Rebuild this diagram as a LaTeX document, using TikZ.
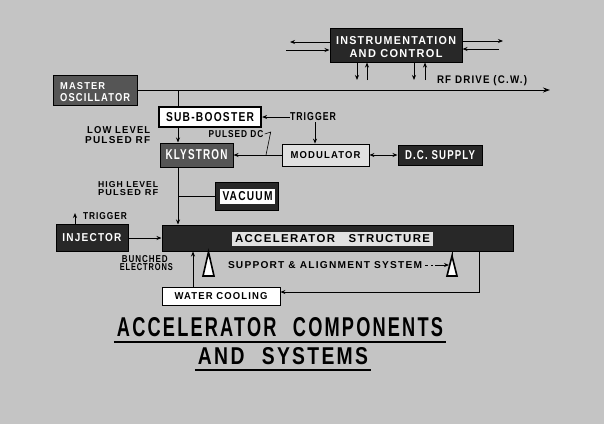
\documentclass[tikz,border=0pt]{standalone}
\usepackage{fontspec}
\setmainfont{Liberation Sans}
\newfontfamily\lblfont[LetterSpace=12]{Liberation Sans}
\usetikzlibrary{arrows.meta}
\definecolor{bgc}{RGB}{196,196,196}
\definecolor{darkc}{RGB}{40,40,40}
\definecolor{midc}{RGB}{85,85,85}
\definecolor{lightc}{RGB}{225,225,225}
\newcommand\fit[3]{\resizebox{#1pt}{#2pt}{\lblfont\bfseries #3}}
\tikzset{
  darkbox/.style={draw=black, fill=darkc, line width=1pt, inner sep=0pt, text=white},
  midbox/.style={draw=black, fill=midc, line width=1pt, inner sep=0pt, text=white},
  lightbox/.style={draw=black, fill=lightc, line width=0.8pt, inner sep=0pt, text=black},
  whitebox/.style={draw=black, fill=white, line width=0.8pt, inner sep=0pt, text=black},
  lbl/.style={inner sep=0pt, text=black},
  wlbl/.style={inner sep=0pt, text=white},
  conn/.style={line width=0.9pt, black},
  arr/.style={conn, -{Stealth[length=5pt,width=4pt]}},
  barr/.style={conn, {Stealth[length=5pt,width=4pt]}-{Stealth[length=5pt,width=4pt]}},
  ul/.style={line width=1.8pt, black},
  support/.style={draw=black, fill=white, line width=1.6pt, line join=miter}
}
\begin{document}
\begin{tikzpicture}[x=1pt,y=-1pt]
\fill[bgc] (0,0) rectangle (604,424);
\useasboundingbox (0,0) rectangle (604,424);

% ---------- boxes ----------
\node[darkbox, minimum width=132pt, minimum height=34pt] (inst) at (396,45) {};
\node[wlbl] (instA) at (396,40.5) {\fit{120}{8}{INSTRUMENTATION}};
\node[wlbl] (instB) at (396,54) {\fit{93}{8}{AND CONTROL}};

\node[midbox, minimum width=84pt, minimum height=30pt] (mo) at (95,90) {};
\node[wlbl, anchor=west] (moA) at (60,86) {\fit{45}{7}{MASTER}};
\node[wlbl, anchor=west] (moB) at (60,98) {\fit{70}{8}{OSCILLATOR}};

\node[whitebox, line width=2.2pt, minimum width=102pt, minimum height=20pt] (sb) at (210,117) {\fit{88}{9}{SUB-BOOSTER}};

\node[midbox, minimum width=73pt, minimum height=24pt] (kly) at (196.5,155) {\fit{62}{10}{KLYSTRON}};

\node[lightbox, minimum width=87pt, minimum height=22pt] (mod) at (325.5,155) {\fit{70}{7}{MODULATOR}};

\node[darkbox, minimum width=84pt, minimum height=20pt] (dcs) at (440,155) {\fit{70}{9}{D.C. SUPPLY}};

\node[darkbox, minimum width=63pt, minimum height=28pt] (vac) at (246.5,196) {};
\node[whitebox, draw=none, minimum width=55pt, minimum height=15pt] (vacin) at (247.5,196.5) {\fit{50}{9}{VACUUM}};

\node[darkbox, minimum width=72pt, minimum height=27pt] (inj) at (92,238) {\fit{59}{8}{INJECTOR}};

\node[darkbox, minimum width=351pt, minimum height=26pt] (acc) at (337.5,238) {};
\node[lightbox, draw=none, minimum width=201pt, minimum height=14pt] (accin) at (332.5,239) {\fit{195}{8}{ACCELERATOR\hspace{1.2em}STRUCTURE}};

\node[whitebox, minimum width=118pt, minimum height=18pt] (wc) at (221,296) {\fit{93}{7}{WATER COOLING}};

% ---------- labels ----------
\node[lbl] (rfd) at (482,81) {\fit{90}{8}{RF DRIVE (C.W.)}};
\node[lbl] (trigA) at (313,117) {\fit{46}{8}{TRIGGER}};
\node[lbl, anchor=west] (llA) at (87,130) {\fit{63}{7}{LOW LEVEL}};
\node[lbl, anchor=west] (llB) at (85,140) {\fit{65}{7}{PULSED RF}};
\node[lbl] (pdc) at (236,134) {\fit{55}{7}{PULSED DC}};
\node[lbl, anchor=west] (hlA) at (98,185) {\fit{60}{6}{HIGH LEVEL}};
\node[lbl, anchor=west] (hlB) at (98,192.5) {\fit{60}{6}{PULSED RF}};
\node[lbl] (trigB) at (105,216.5) {\fit{44}{7}{TRIGGER}};
\node[lbl, anchor=east] (buA) at (168,259) {\fit{46}{7}{BUNCHED}};
\node[lbl, anchor=east] (buB) at (173,267.5) {\fit{53}{7}{ELECTRONS}};
\node[lbl] (sup) at (325,265) {\fit{194}{7}{SUPPORT \& ALIGNMENT SYSTEM}};

\node[lbl] (t1) at (280,327.5) {\resizebox{326pt}{19pt}{\lblfont\bfseries ACCELERATOR\hspace{0.9em}COMPONENTS}};
\node[lbl] (t2) at (283,356.5) {\resizebox{170pt}{17pt}{\lblfont\bfseries AND\hspace{0.9em}SYSTEMS}};
\draw[ul] ([shift={(-3,5)}]t1.south west) -- ([shift={(3,5)}]t1.south east);
\draw[ul] ([shift={(-3,5)}]t2.south west) -- ([shift={(3,5)}]t2.south east);

% ---------- coordinates ----------
\coordinate (rfend) at (550,90);
\coordinate (tap) at (178,90);
\coordinate (il1) at (290,42);
\coordinate (il2) at (286,50);
\coordinate (ir1) at (503,41);
\coordinate (ir2) at (499,49);
\coordinate (b1) at (357,80);
\coordinate (b2) at (367,80);
\coordinate (b3) at (414,80);
\coordinate (b4) at (425,80);
\coordinate (pdcend) at (266,155);
\coordinate (ti) at (75,213);
\coordinate (wx) at (193,0);
\coordinate (rx) at (479,292);
\coordinate (triL) at (208.5,252);
\coordinate (triR) at (452,256);
\coordinate (tdown) at (315,122);

% ---------- connectors ----------
\draw[conn, -{Stealth[length=7pt,width=5pt]}] (mo.east) -- (rfend);
\draw[conn] (tap) -- (sb.north -| tap);
\draw[arr] (sb.south -| tap) -- (kly.north -| tap);
\draw[arr] (kly.south -| tap) -- (acc.north -| tap);
\draw[conn] (vac.west) -- (vac.west -| tap);
\draw[arr] (mod.west) -- (kly.east);
\draw[barr] (mod.east) -- (dcs.west);
\draw[arr] (trigA.west) -- (sb.east);
\draw[arr] (tdown) -- (mod.north -| tdown);
\draw[conn, line width=0.6pt] ([xshift=1pt]pdc.east) -- ++(6,-2) -- (pdcend);

\draw[arr] (inst.west |- il1) -- (il1);
\draw[arr] (il2) -- (inst.west |- il2);
\draw[arr] (inst.east |- ir1) -- (ir1);
\draw[arr] (ir2) -- (inst.east |- ir2);
\draw[arr] (inst.south -| b1) -- (b1);
\draw[arr] (b2) -- (inst.south -| b2);
\draw[arr] (inst.south -| b3) -- (b3);
\draw[arr] (b4) -- (inst.south -| b4);

\draw[arr] (inj.east) -- (acc.west |- inj.east);
\draw[arr] (inj.north -| ti) -- (ti);

\draw[arr] (wc.north -| wx) -- (acc.south -| wx);
\draw[arr] (acc.south -| rx) -- (rx) -- (wc.east |- rx);

% supports
\draw[support] (triL) -- ++(5.5,24) -- ++(-11,0) -- cycle;
\draw[support] (triR) -- ++(5,20) -- ++(-10,0) -- cycle;
\draw[conn] (acc.south -| triR) -- (triR);
\draw[conn, dashed] ([xshift=3pt]sup.east) -- ++(8,0);
\draw[arr] ([xshift=13pt]sup.east) -- ([xshift=-3pt]triR |- sup.east);
\end{tikzpicture}
\end{document}
